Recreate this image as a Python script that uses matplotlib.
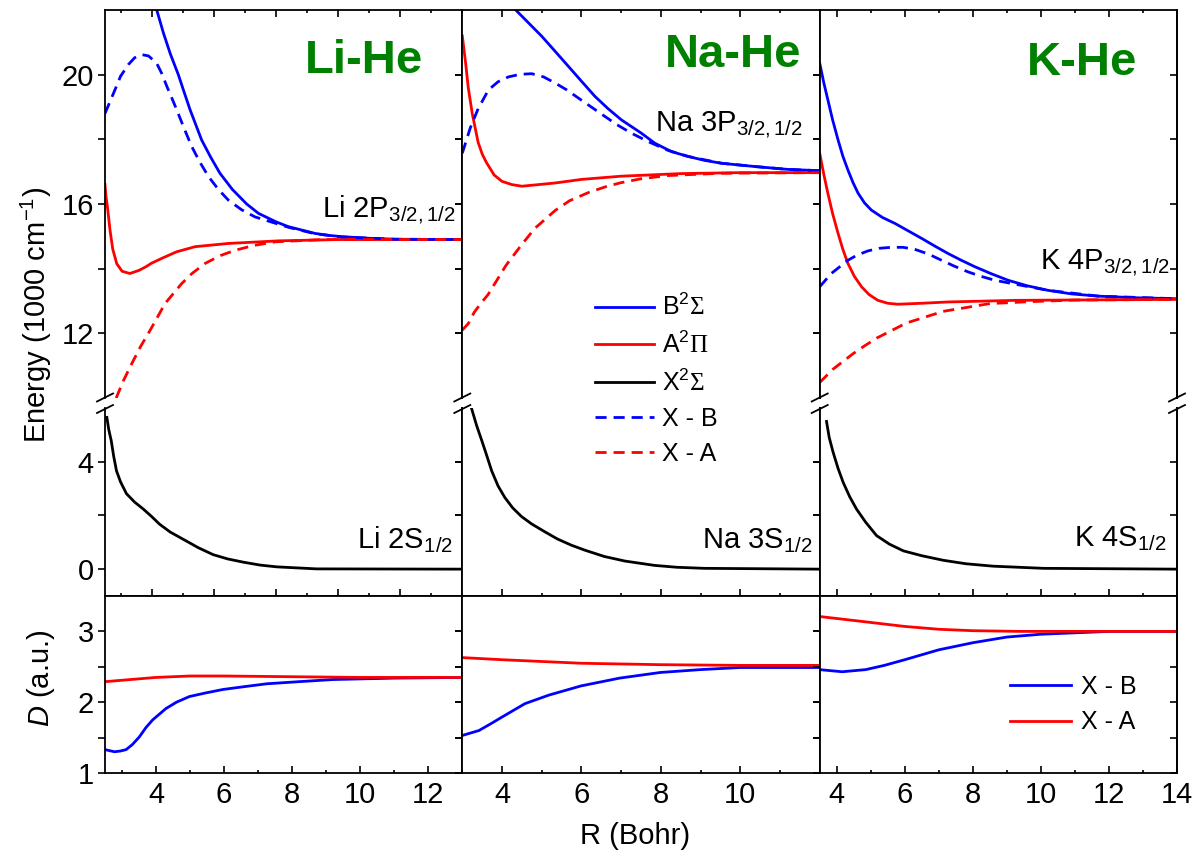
import numpy as np
import matplotlib
matplotlib.use("Agg")
import matplotlib.pyplot as plt
from matplotlib.lines import Line2D
from matplotlib.ticker import MultipleLocator, FixedLocator

plt.rcParams["font.family"] = "Liberation Sans"
plt.rcParams["mathtext.fontset"] = "custom"
plt.rcParams["mathtext.rm"] = "Liberation Sans"
plt.rcParams["mathtext.it"] = "Liberation Sans:italic"
plt.rcParams["mathtext.bf"] = "Liberation Sans:bold"
plt.rcParams["mathtext.sf"] = "Liberation Serif"
plt.rcParams["mathtext.default"] = "regular"

# ---------------- Li-He ----------------
li_b_r = [4.0, 4.16, 4.38, 4.6, 4.86, 5.05, 5.24, 5.61, 5.9, 6.2, 6.6, 7.06, 7.44, 8.0, 8.4,
          9.26, 9.7, 10.12, 11.0, 11.84, 14.0]
li_b_e = [22.6, 22.02, 21.29, 20.65, 20.0, 19.45, 18.91, 17.98, 17.45, 16.95, 16.45, 16.0, 15.71,
          15.45, 15.3, 15.09, 15.03, 14.99, 14.94, 14.91, 14.9]
li_a_r = [2.5, 2.53, 2.58, 2.66, 2.75, 2.88, 3.05, 3.3, 3.6, 3.8, 4.0, 4.33, 4.8, 5.4, 6.47, 8.08, 10.0, 14.0]
li_a_e = [16.6, 16.25, 15.9, 15.2, 14.6, 14.15, 13.92, 13.85, 13.95, 14.05, 14.17, 14.32, 14.52, 14.68,
          14.78, 14.86, 14.9, 14.9]
li_xb_r = [2.5, 2.82, 3.0, 3.25, 3.45, 3.68, 3.9, 4.16, 4.32, 4.49, 4.65, 4.81, 5.05, 5.29, 5.55, 5.83,
           6.15, 6.47, 6.9, 7.33, 8.4, 9.26, 10.12, 11.84, 14.0]
li_xb_e = [18.8, 19.53, 19.95, 20.31, 20.52, 20.62, 20.58, 20.36, 20.05, 19.64, 19.28, 18.91, 18.33,
           17.78, 17.3, 16.85, 16.45, 16.12, 15.82, 15.6, 15.28, 15.08, 14.98, 14.91, 14.9]
li_xa_r = [2.86, 3.1, 3.36, 3.65, 3.95, 4.2, 4.43, 4.97, 5.3, 5.72, 6.2, 6.69, 7.3, 7.98, 9.5, 14.0]
li_xa_e = [10.0, 10.55, 11.06, 11.6, 12.09, 12.52, 12.92, 13.54, 13.85, 14.16, 14.4, 14.57, 14.72,
           14.83, 14.9, 14.9]
li_x_r = [2.56, 2.62, 2.7, 2.78, 2.87, 3.0, 3.19, 3.45, 3.73, 4.0, 4.26, 4.6, 5.02, 5.5, 5.98, 6.45,
          6.95, 7.5, 8.03, 9.3, 14.0]
li_x_e = [5.65, 5.2, 4.79, 4.2, 3.66, 3.25, 2.81, 2.5, 2.24, 1.96, 1.67, 1.38, 1.11, 0.8, 0.54, 0.38,
          0.26, 0.15, 0.085, 0.01, 0.0]
li_d_r = [2.5, 2.78, 2.95, 3.12, 3.3, 3.51, 3.7, 3.9, 4.29, 4.6, 4.98, 5.45, 5.97, 6.6, 7.25, 8.2,
          9.2, 11.0, 13.0]
li_d_xb = [1.33, 1.30, 1.31, 1.33, 1.4, 1.51, 1.64, 1.75, 1.91, 2.0, 2.08, 2.13, 2.18, 2.22, 2.26,
           2.29, 2.32, 2.34, 2.35]
li_d_r2 = [2.5, 3.0, 4.0, 5.0, 6.0, 8.0, 10.0, 13.0]
li_d_xa = [2.29, 2.31, 2.35, 2.37, 2.37, 2.36, 2.35, 2.35]

# ---------------- Na-He ----------------
na_b_r = [4.2, 4.33, 5.0, 5.34, 5.67, 6.0, 6.34, 6.67, 7.01, 7.51, 7.85, 8.27, 8.69, 9.1, 9.53,
          10.36, 11.2, 12.0]
na_b_e = [22.4, 22.02, 21.19, 20.72, 20.26, 19.8, 19.33, 18.95, 18.6, 18.19, 17.88, 17.62, 17.47,
          17.35, 17.26, 17.16, 17.07, 17.03]
na_a_r = [3.0, 3.08, 3.15, 3.25, 3.4, 3.5, 3.6, 3.7, 3.8, 4.0, 4.25, 4.5, 5.34, 6.0, 7.0, 8.5, 10.0, 12.0]
na_a_e = [21.2, 20.4, 19.6, 18.8, 17.9, 17.55, 17.3, 17.1, 16.9, 16.7, 16.6, 16.55, 16.65, 16.76,
          16.86, 16.94, 16.97, 16.97]
na_xb_r = [3.0, 3.2, 3.4, 3.66, 3.9, 4.16, 4.45, 4.75, 5.05, 5.34, 5.63, 5.92, 6.25, 6.59, 6.9, 7.26,
           7.7, 8.18, 8.69, 9.53, 10.36, 11.2, 12.0]
na_xb_e = [17.57, 18.35, 18.95, 19.53, 19.78, 19.93, 20.01, 20.03, 19.93, 19.74, 19.53, 19.28, 19.0,
           18.71, 18.45, 18.19, 17.92, 17.66, 17.47, 17.26, 17.16, 17.07, 17.03]
na_xa_r = [3.0, 3.15, 3.3, 3.45, 3.65, 3.85, 4.1, 4.5, 4.83, 5.34, 5.7, 6.17, 6.6, 7.0, 7.5, 8.18,
           9.5, 12.0]
na_xa_e = [12.1, 12.3, 12.65, 12.9, 13.2, 13.6, 14.1, 14.75, 15.25, 15.8, 16.1, 16.35, 16.53, 16.66,
           16.78, 16.88, 16.95, 16.97]
na_x_r = [3.18, 3.23, 3.36, 3.49, 3.6, 3.74, 3.9, 4.07, 4.27, 4.49, 4.75, 5.08, 5.4, 5.75, 6.1,
          6.58, 7.1, 7.84, 8.4, 9.1, 12.0]
na_x_e = [6.3, 6.0, 5.35, 4.79, 4.3, 3.66, 3.1, 2.67, 2.28, 1.96, 1.68, 1.39, 1.12, 0.89, 0.7,
          0.47, 0.3, 0.14, 0.07, 0.03, 0.0]
na_d_r = [3.0, 3.42, 3.7, 4.0, 4.58, 5.18, 5.99, 6.96, 7.99, 8.99, 10.0, 12.0]
na_d_xb = [1.53, 1.6, 1.69, 1.79, 1.98, 2.1, 2.23, 2.34, 2.42, 2.46, 2.49, 2.49]
na_d_r2 = [3.0, 4.0, 6.0, 8.0, 10.0, 12.0]
na_d_xa = [2.63, 2.6, 2.55, 2.53, 2.52, 2.52]

# ---------------- K-He ----------------
k_b_r = [3.5, 3.62, 3.74, 3.88, 4.04, 4.18, 4.33, 4.48, 4.63, 4.82, 5.02, 5.35, 5.71, 6.1, 6.49,
         6.88, 7.27, 7.66, 8.06, 8.55, 9.04, 9.6, 10.21, 10.9, 11.69, 12.8, 14.0]
k_b_e = [20.36, 19.75, 19.22, 18.6, 17.98, 17.48, 17.05, 16.66, 16.33, 16.03, 15.81, 15.58, 15.4,
         15.17, 14.94, 14.7, 14.47, 14.26, 14.06, 13.84, 13.64, 13.47, 13.33, 13.22, 13.15, 13.1, 13.07]
k_a_r = [3.5, 3.62, 3.74, 3.88, 4.04, 4.18, 4.33, 4.52, 4.73, 4.95, 5.21, 5.5, 5.8, 6.5, 7.27, 9.24, 14.0]
k_a_e = [17.57, 16.92, 16.33, 15.7, 15.09, 14.6, 14.16, 13.76, 13.44, 13.2, 13.02, 12.93, 12.9,
         12.93, 12.97, 13.02, 13.05]
k_xb_r = [3.5, 3.84, 4.33, 4.6, 4.92, 5.25, 5.61, 5.95, 6.29, 6.7, 7.08, 7.45, 7.86, 8.25, 8.65,
          9.5, 10.21, 11.69, 14.0]
k_xb_e = [13.44, 13.85, 14.26, 14.42, 14.55, 14.63, 14.66, 14.66, 14.6, 14.45, 14.26, 14.08, 13.9,
          13.76, 13.64, 13.47, 13.33, 13.15, 13.07]
k_xa_r = [3.5, 3.89, 4.48, 4.8, 5.17, 6.05, 7.13, 8.5, 9.68, 11.0, 14.0]
k_xa_e = [10.48, 10.89, 11.37, 11.6, 11.85, 12.32, 12.68, 12.92, 12.98, 13.03, 13.05]
k_x_r = [3.7, 3.78, 3.89, 4.04, 4.19, 4.38, 4.58, 4.85, 5.17, 5.55, 5.96, 6.5, 7.13, 7.8, 8.6,
         10.08, 14.0]
k_x_e = [5.5, 4.9, 4.37, 3.75, 3.23, 2.7, 2.24, 1.75, 1.25, 0.93, 0.68, 0.5, 0.33, 0.2, 0.11, 0.03, 0.0]
k_d_r = [3.5, 4.16, 4.85, 5.4, 6.0, 6.5, 7.0, 8.0, 9.0, 10.0, 12.0, 14.0]
k_d_xb = [2.46, 2.43, 2.46, 2.52, 2.6, 2.67, 2.74, 2.84, 2.92, 2.96, 3.0, 3.0]
k_d_r2 = [3.5, 4.58, 6.0, 7.0, 8.0, 9.4, 14.0]
k_d_xa = [3.21, 3.15, 3.07, 3.03, 3.01, 3.0, 3.0]

titles = ["Li-He", "Na-He", "K-He"]
p_labels = [r"Li 2P$_{3/2,1/2}$", r"Na 3P$_{3/2,1/2}$", r"K 4P$_{3/2,1/2}$"]
s_labels = [r"Li 2S$_{1/2}$", r"Na 3S$_{1/2}$", r"K 4S$_{1/2}$"]
e_xlims = [(2.5, 14), (3, 12), (3.5, 14)]
d_xlims = [(2.5, 13), (3, 12), (3.5, 14)]
d_xticks = [[4, 6, 8, 10, 12], [4, 6, 8, 10], [4, 6, 8, 10, 12, 14]]
up_ticks = [12, 14, 16, 18, 20]
up_labels = ["12", "", "16", "", "20"]
lo_ticks = [0, 2, 4]
lo_labels = ["0", "", "4"]
d_ticks = [1, 1.5, 2, 2.5, 3]
d_labels = ["1", "", "2", "", "3"]

curves = [
    dict(b=(li_b_r, li_b_e), a=(li_a_r, li_a_e), xb=(li_xb_r, li_xb_e), xa=(li_xa_r, li_xa_e),
         x=(li_x_r, li_x_e), dxb=(li_d_r, li_d_xb), dxa=(li_d_r2, li_d_xa)),
    dict(b=(na_b_r, na_b_e), a=(na_a_r, na_a_e), xb=(na_xb_r, na_xb_e), xa=(na_xa_r, na_xa_e),
         x=(na_x_r, na_x_e), dxb=(na_d_r, na_d_xb), dxa=(na_d_r2, na_d_xa)),
    dict(b=(k_b_r, k_b_e), a=(k_a_r, k_a_e), xb=(k_xb_r, k_xb_e), xa=(k_xa_r, k_xa_e),
         x=(k_x_r, k_x_e), dxb=(k_d_r, k_d_xb), dxa=(k_d_r2, k_d_xa)),
]

title_pos = [(0.56, 0.838), (0.567, 0.853), (0.58, 0.832)]
p_pos = [(0.98, 0.466), (0.954, 0.686), (0.98, 0.330)]
s_pos = [(0.974, 0.255), (0.98, 0.255), (0.97, 0.266)]

W, H = 1195, 852
fig = plt.figure(figsize=(W / 100, H / 100), dpi=100)

col_left = [105, 462.3, 819.7]
col_w = 357.3
LW = 2.0
DASH = (4, 2.5)
SPW = 1.3
FS = 21


def style_y(ax, ticks, labels, show):
    ax.yaxis.set_major_locator(FixedLocator(ticks))
    ax.set_yticklabels(labels if show else [""] * len(ticks))
    ax.tick_params(axis="y", which="both", direction="out", left=True, right=False,
                   length=5, width=1.2, labelsize=FS, pad=3)
    sec = ax.secondary_yaxis("right")
    sec.yaxis.set_major_locator(FixedLocator(ticks))
    sec.tick_params(axis="y", direction="in", length=5, width=1.2, labelright=False)
    sec.spines["right"].set_linewidth(SPW)


for c in range(3):
    left = col_left[c] / W
    w = col_w / W
    ax_u = fig.add_axes([left, 1 - 398 / H, w, 388 / H])
    ax_l = fig.add_axes([left, 1 - 596 / H, w, 188 / H])
    ax_d = fig.add_axes([left, 1 - 773 / H, w, 177 / H])
    cv = curves[c]

    ax_u.plot(*cv["b"], color="#0000ff", lw=LW)
    ax_u.plot(*cv["a"], color="#ff0000", lw=LW)
    ax_u.plot(*cv["xb"], color="#0000ff", lw=LW, dashes=DASH)
    ax_u.plot(*cv["xa"], color="#ff0000", lw=LW, dashes=DASH)
    ax_l.plot(*cv["x"], color="black", lw=LW)
    ax_d.plot(*cv["dxb"], color="#0000ff", lw=LW)
    ax_d.plot(*cv["dxa"], color="#ff0000", lw=LW)

    ax_u.set_ylim(10, 22)
    ax_l.set_ylim(-1, 6)
    ax_d.set_ylim(1, 3.5)
    ax_u.set_xlim(*e_xlims[c])
    ax_l.set_xlim(*e_xlims[c])
    ax_d.set_xlim(*d_xlims[c])

    for ax in (ax_u, ax_l, ax_d):
        for s in ax.spines.values():
            s.set_linewidth(SPW)
    ax_u.spines["bottom"].set_visible(False)
    ax_l.spines["top"].set_visible(False)

    for ax in (ax_u, ax_l):
        ax.xaxis.set_major_locator(MultipleLocator(2))
        ax.xaxis.set_minor_locator(MultipleLocator(1))
    ax_u.tick_params(axis="x", which="both", direction="in", top=True, bottom=False,
                     labelbottom=False, width=1.2)
    ax_u.tick_params(axis="x", which="major", length=5)
    ax_u.tick_params(axis="x", which="minor", length=2.5)
    ax_l.tick_params(axis="x", which="both", direction="inout", top=False, bottom=True,
                     labelbottom=False, width=1.2)
    ax_l.tick_params(axis="x", which="major", length=10)
    ax_l.tick_params(axis="x", which="minor", length=5)

    ax_d.xaxis.set_major_locator(FixedLocator(d_xticks[c]))
    ax_d.xaxis.set_minor_locator(MultipleLocator(1))
    ax_d.tick_params(axis="x", which="both", direction="in", top=False, bottom=True,
                     width=1.2, labelsize=FS, pad=6)
    ax_d.tick_params(axis="x", which="major", length=5)
    ax_d.tick_params(axis="x", which="minor", length=2.5)

    style_y(ax_u, up_ticks, up_labels, c == 0)
    style_y(ax_l, lo_ticks, lo_labels, c == 0)
    style_y(ax_d, d_ticks, d_labels, c == 0)

    ax_u.text(*title_pos[c], titles[c], transform=ax_u.transAxes, color="#008000",
              fontsize=34, fontweight="bold", ha="left", va="baseline")
    ax_u.text(*p_pos[c], p_labels[c], transform=ax_u.transAxes, fontsize=FS,
              ha="right", va="baseline")
    ax_l.text(*s_pos[c], s_labels[c], transform=ax_l.transAxes, fontsize=FS,
              ha="right", va="baseline")

# axis break marks
for px in col_left + [col_left[-1] + col_w]:
    for py in (397.5, 409):
        fig.add_artist(Line2D([(px - 8) / W, (px + 8) / W], [1 - (py + 4) / H, 1 - (py - 4) / H],
                              color="black", lw=1.3, transform=fig.transFigure))

# legends
h_b = Line2D([], [], color="#0000ff", lw=LW)
h_a = Line2D([], [], color="#ff0000", lw=LW)
h_x = Line2D([], [], color="black", lw=LW)
h_xb = Line2D([], [], color="#0000ff", lw=LW, dashes=DASH)
h_xa = Line2D([], [], color="#ff0000", lw=LW, dashes=DASH)
fig.legend([h_b, h_a, h_x, h_xb, h_xa],
           [r"B$^2\mathsf{\Sigma}$", r"A$^2\mathsf{\Pi}$", r"X$^2\mathsf{\Sigma}$", "X - B", "X - A"],
           loc="upper left", bbox_to_anchor=(595 / W, 1 - 294 / H), frameon=False,
           borderpad=0, borderaxespad=0, handlelength=2.36, handletextpad=0.3,
           labelspacing=0.45, fontsize=18)
fig.legend([Line2D([], [], color="#0000ff", lw=LW), Line2D([], [], color="#ff0000", lw=LW)],
           ["X - B", "X - A"], loc="upper left", bbox_to_anchor=(1010 / W, 1 - 675 / H),
           frameon=False, borderpad=0, borderaxespad=0, handlelength=2.45,
           handletextpad=0.4, labelspacing=0.45, fontsize=18)

fig.text(36 / W, 1 - 315 / H, r"Energy (1000 cm$^{-1}$)", rotation=90, fontsize=FS,
         ha="center", va="center")
fig.text(41 / W, 1 - 678 / H, r"$\mathit{D}$ (a.u.)", rotation=90, fontsize=FS,
         ha="center", va="center")
fig.text(635 / W, 1 - 836 / H, "R (Bohr)", fontsize=FS, ha="center", va="center")

fig.savefig("out.png", dpi=100)
